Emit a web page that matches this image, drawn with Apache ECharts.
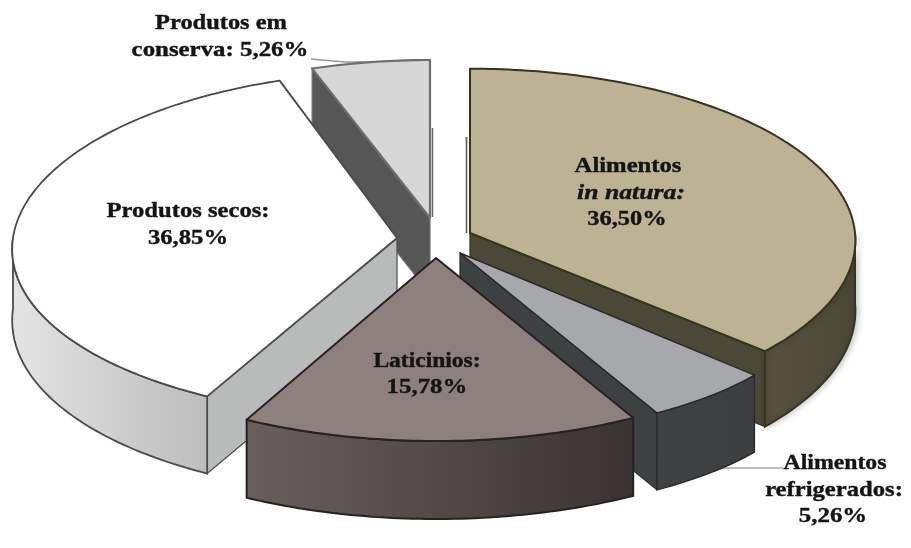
<!DOCTYPE html>
<html>
<head>
<meta charset="utf-8">
<script src="https://cdn.jsdelivr.net/npm/echarts@6/dist/echarts.min.js"></script>
<style>
html,body{margin:0;padding:0;background:#fff}
#chart{width:911px;height:548px}
</style>
</head>
<body>
<div id="chart"></div>
<script>
// Shares of each food group, in percent, clockwise from twelve o'clock.
const categories = ['Alimentos in natura', 'Alimentos refrigerados', 'Laticinios', 'Produtos secos', 'Produtos em conserva'];
const shares = [36.50, 5.26, 15.78, 36.85, 5.26];

// Back-to-front order, so nearer wedges cover the walls of those behind them.
const paintOrder = [4, 0, 3, 1, 2];

// Exploded position and projection of each wedge: apex, radii, perspective, extrusion.
const wedgeGeometry = [
  {cx: 470, cy: 233, rx: 385, ry: 172, px: .043, py: .045, d0: 70, d1: 8},
  {cx: 460, cy: 253, rx: 366, ry: 183, px: .12,  py: 0,    d0: 77, d1: 0},
  {cx: 436, cy: 258, rx: 405, ry: 183, px: 0,    py: 0,    d0: 78, d1: 0},
  {cx: 397, cy: 238, rx: 384, ry: 173, px: .065, py: .04,  d0: 71, d1: 7},
  {cx: 430, cy: 218, rx: 362, ry: 158, px: 0,    py: 0,    d0: 76, d1: 0}
];

const wedgeColors = [
  {top: '#bdb294', rim: ['#57523f', '#4b4738'], side: '#4c4838', line: '#37331f', lw: 2, shade: 'rgba(0,0,0,0.22)'},
  {top: '#a6a8ab', rim: ['#404143', '#3d3e40'], side: '#3e4142', line: '#26282a', lw: 1.4},
  {top: '#8f8080', rim: ['#6a5f5f', '#3a3232'], side: '#3a3232', line: '#2a2020', lw: 2},
  {top: '#ffffff', rim: ['#e4e4e4', '#bcbcbc'], side: '#b9bbbb', line: '#4a4a4a', lw: 1.8},
  {top: '#d7d7d7', rim: ['#565656', '#565656'], side: '#565656', line: '#6e6e6e', lw: 2.2}
];

// Label lines per wedge: text, centre, horizontal stretch, italic flag.
const labelLines = [
  [['Alimentos', 628, 166, 1.12], ['in natura:', 631, 193, 1.17, true], ['36,50%', 627, 219, 1.11]],
  [['Alimentos', 835, 463, 1.08], ['refrigerados:', 834, 490, 1.12], ['5,26%', 833, 516, 1.13]],
  [['Laticinios:', 427, 361, 1.07], ['15,78%', 427, 387, 1.13]],
  [['Produtos secos:', 188, 211, 1.12], ['36,85%', 188, 238, 1.12]],
  [['Produtos em', 221, 23, 1.11], ['conserva: 5,26%', 220, 50, 1.13]]
];

// Thin leader lines and edge shadows next to the wedges.
const extraLines = [
  {pts: [[311, 59], [345, 62], [368, 62]], color: '#9a9a9a', w: 1.5},
  {pts: [[783, 468], [722, 468], [706, 473]], color: '#a8a8a8', w: 1.3},
  {pts: [[432.5, 128], [432.5, 217]], color: '#6a6a6a', w: 1.6},
  {pts: [[466.5, 137], [466.5, 233]], color: '#5a5a4c', w: 1.6}
];

const total = shares.reduce((a, b) => a + b, 0);
const startAngles = [];
shares.reduce((acc, v, i) => { startAngles[i] = acc; return acc + v / total * 360; }, 0);

const rad = a => a * Math.PI / 180;

// Projects a rim point of wedge i at clockwise angle a onto the canvas.
function project(i, a) {
  const g = wedgeGeometry[i];
  const X = Math.sin(rad(a)), Y = -Math.cos(rad(a));
  return [g.cx + g.rx * X * (1 + g.px * Y), g.cy + g.ry * Y * (1 + g.py * Y)];
}
const depthAt = (i, a) => wedgeGeometry[i].d0 + wedgeGeometry[i].d1 * (-Math.cos(rad(a)));

function arcAngles(a0, a1) {
  const out = [], n = Math.max(2, Math.ceil(Math.abs(a1 - a0)));
  for (let k = 0; k <= n; k++) out.push(a0 + (a1 - a0) * k / n);
  return out;
}

function renderWedge(params, api) {
  const i = api.value(1);
  const g = wedgeGeometry[i], c = wedgeColors[i];
  const a0 = startAngles[i], a1 = a0 + api.value(0) / total * 360;
  const apex = [g.cx, g.cy];
  const children = [];

  // Cut faces are only seen when they turn toward the viewer.
  const cutFace = a => {
    const p = project(i, a), d = depthAt(i, a);
    children.push({
      type: 'polygon',
      shape: {points: [apex, p, [p[0], p[1] + d], [apex[0], apex[1] + d]]},
      style: {fill: c.side, stroke: c.line, lineWidth: 1.2}
    });
  };
  if (Math.sin(rad(a0)) < -0.01) cutFace(a0);
  if (Math.sin(rad(a1)) > 0.01) cutFace(a1);

  // Outer rim, limited to the near half of the disc.
  const w0 = Math.max(a0, 90), w1 = Math.min(a1, 270);
  if (w1 > w0) {
    const angles = arcAngles(w0, w1);
    const upper = angles.map(a => project(i, a));
    const lower = angles.map(a => { const p = project(i, a); return [p[0], p[1] + depthAt(i, a)]; }).reverse();
    children.push({
      type: 'polygon',
      shape: {points: upper.concat(lower)},
      style: {
        fill: new echarts.graphic.LinearGradient(0, 0, 1, 0, [
          {offset: 0, color: c.rim[0]},
          {offset: 1, color: c.rim[1]}
        ]),
        stroke: c.line, lineWidth: c.lw,
        shadowColor: c.shade || 'transparent', shadowBlur: c.shade ? 6 : 0, shadowOffsetX: c.shade ? 2 : 0
      }
    });
  }

  // Top face.
  const rim = arcAngles(a0, a1).map(a => project(i, a));
  children.push({
    type: 'polygon',
    shape: {points: [apex].concat(rim)},
    style: {fill: c.top, stroke: c.line, lineWidth: c.lw, lineJoin: 'round'}
  });

  // Wedge caption.
  labelLines[i].forEach(l => {
    children.push({
      type: 'text',
      x: l[1], y: l[2], scaleX: l[3],
      z2: 50,
      style: {
        text: l[0],
        font: (l[4] ? 'italic ' : '') + 'bold 22px "Liberation Serif", serif',
        fill: '#141414', stroke: '#141414', lineWidth: 0.4,
        align: 'center', verticalAlign: 'middle'
      }
    });
  });
  return {type: 'group', children};
}

function renderExtras(params, api) {
  const l = extraLines[api.value(0)];
  return {
    type: 'polyline',
    shape: {points: l.pts},
    style: {fill: 'none', stroke: l.color, lineWidth: l.w}
  };
}

const chart = echarts.init(document.getElementById('chart'), null, {renderer: 'canvas'});
chart.setOption({
  animation: false,
  backgroundColor: '#ffffff',
  series: [
    {
      type: 'custom',
      coordinateSystem: 'none',
      z: 1,
      silent: true,
      renderItem: renderExtras,
      data: extraLines.map((_, i) => [i])
    },
    {
      type: 'custom',
      coordinateSystem: 'none',
      z: 2,
      silent: true,
      renderItem: renderWedge,
      data: paintOrder.map(i => ({name: categories[i], value: [shares[i], i]}))
    }
  ]
});
</script>
</body>
</html>
